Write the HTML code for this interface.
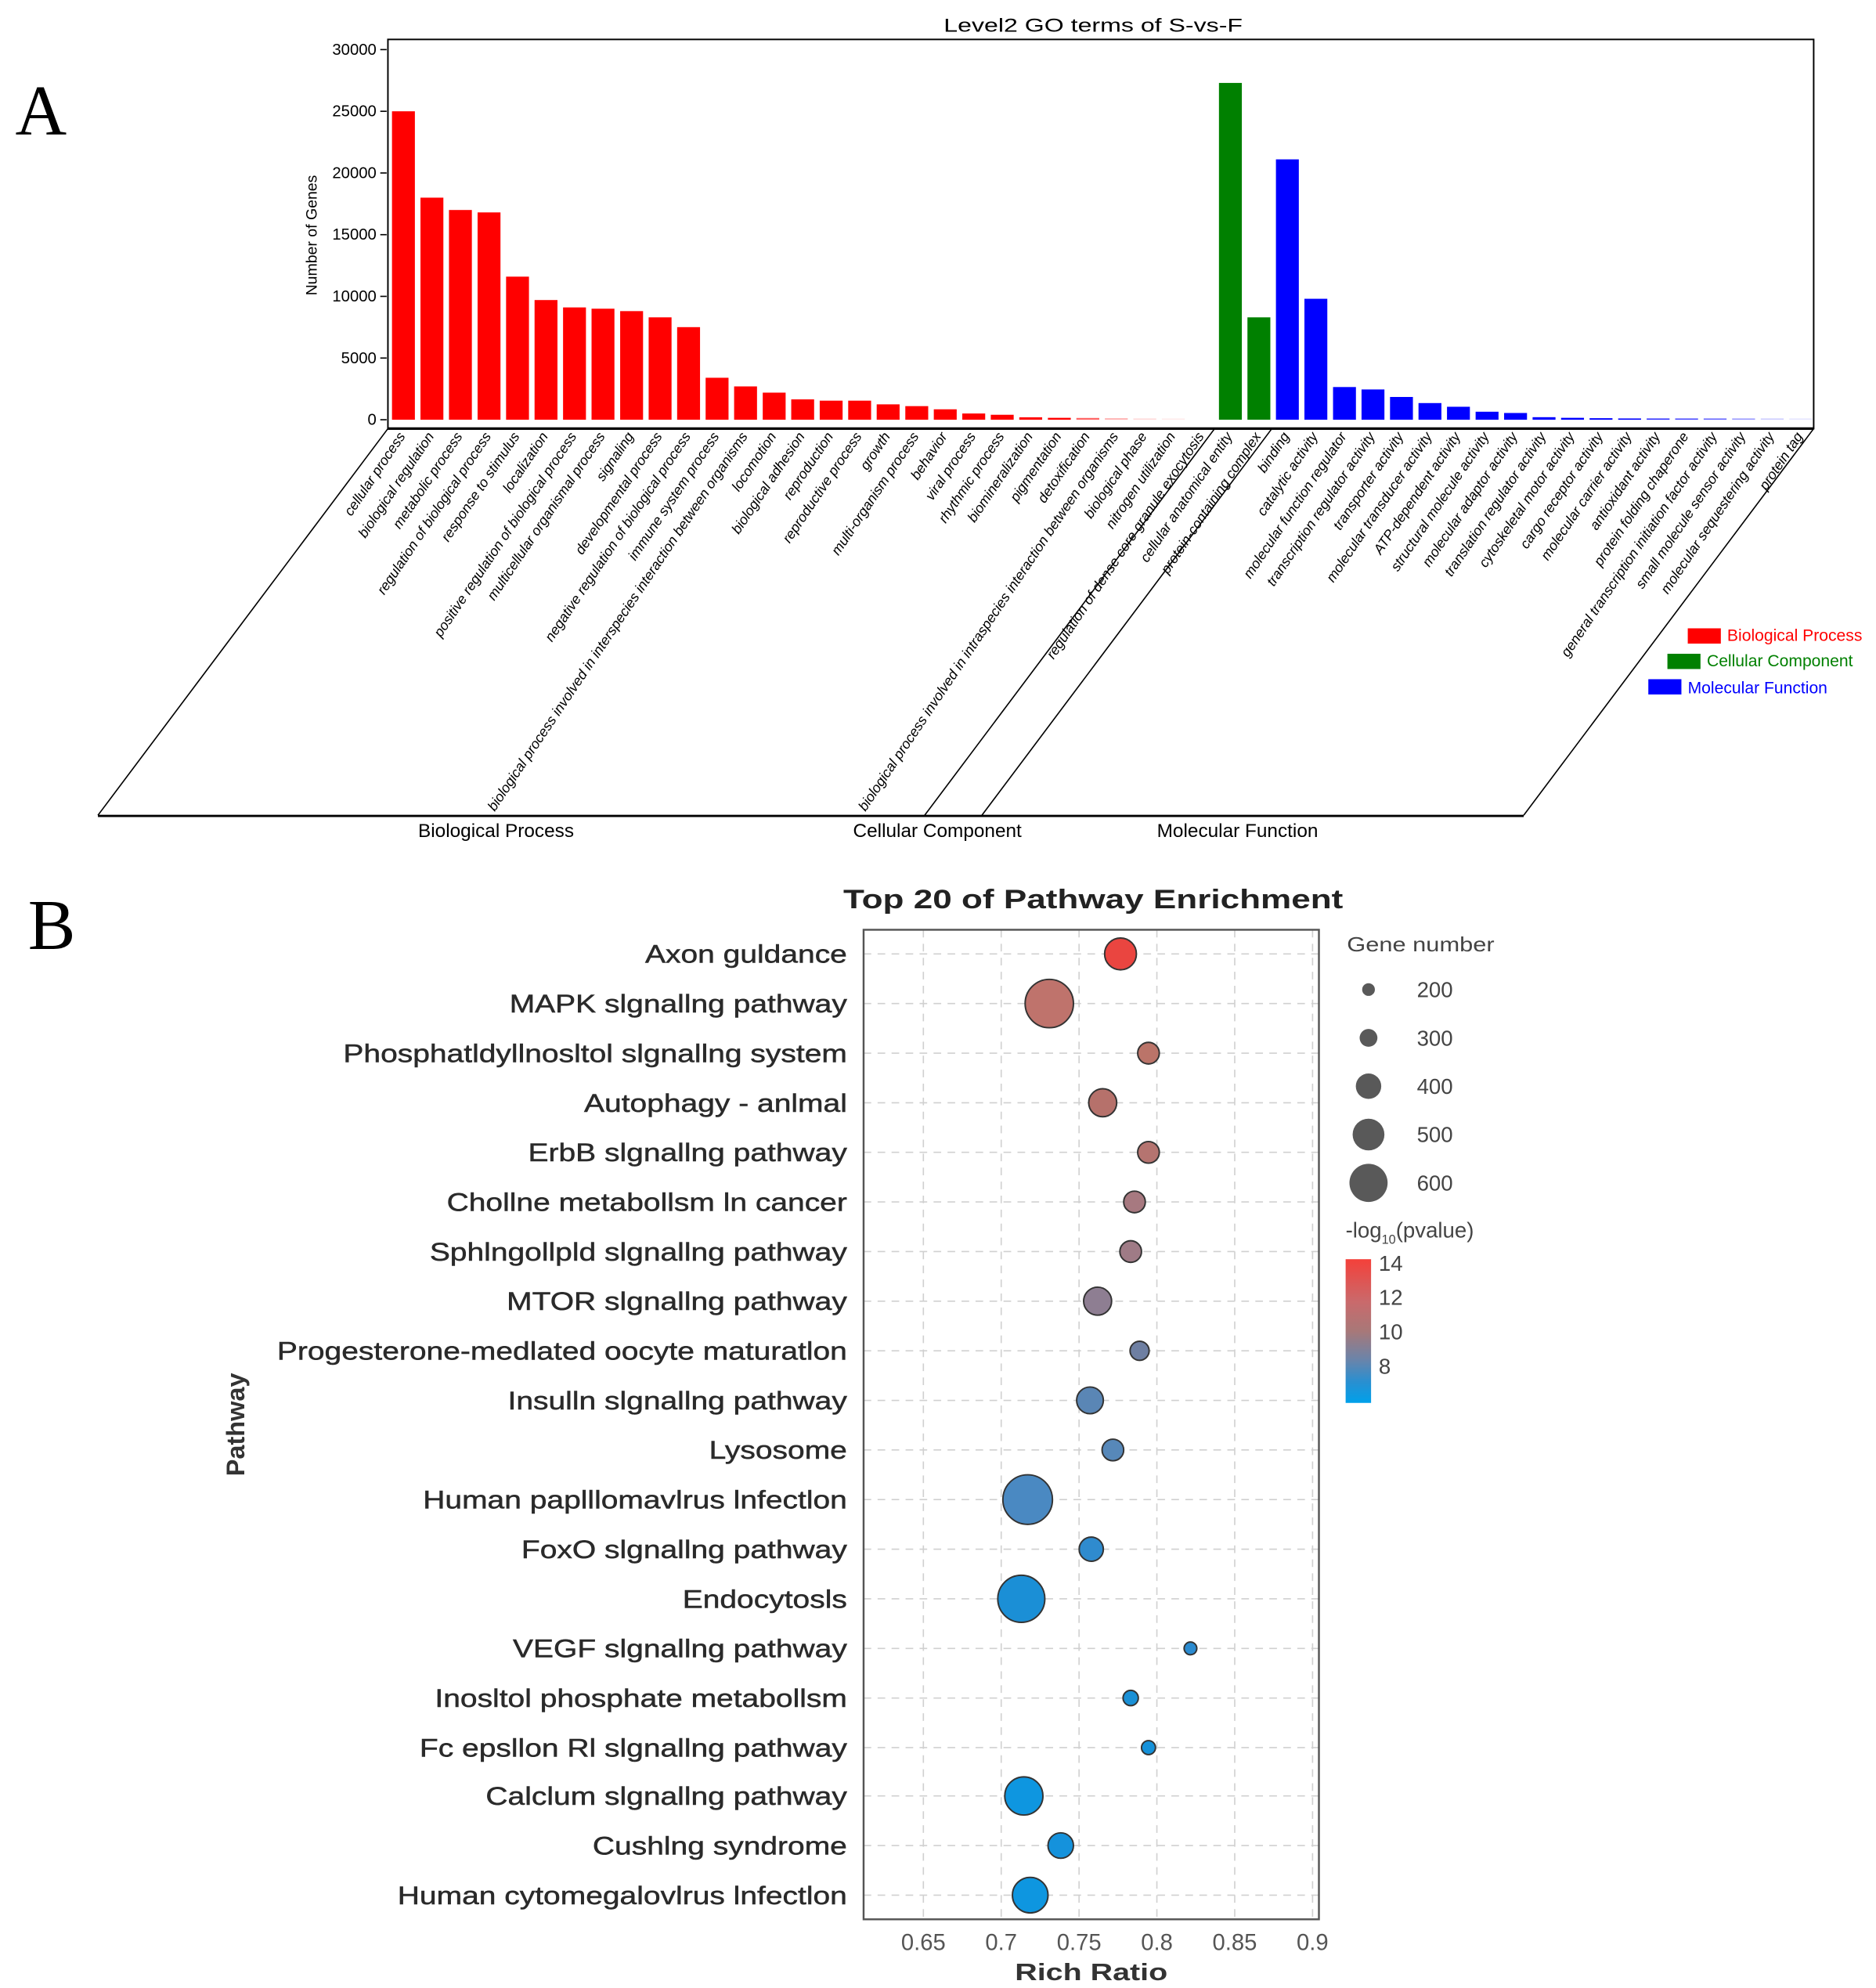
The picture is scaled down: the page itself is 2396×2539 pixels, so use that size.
<!DOCTYPE html>
<html><head><meta charset="utf-8"><style>
html,body{margin:0;padding:0;background:#fff;}
svg{display:block;}
text{font-family:"Liberation Sans",sans-serif;}
</style></head><body>
<svg width="2396" height="2539" viewBox="0 0 1475 1563" preserveAspectRatio="none" xmlns="http://www.w3.org/2000/svg">
<rect width="1475" height="1563" fill="#fff"/>
<!-- Panel A -->
<text x="12" y="106" font-size="56" style="font-family:'Liberation Serif',serif">A</text>
<text x="742" y="25" font-size="15" textLength="235" lengthAdjust="spacingAndGlyphs">Level2 GO terms of S-vs-F</text>
<rect x="305" y="31" width="1121" height="306" fill="none" stroke="#000" stroke-width="1.2"/>
<line x1="305" y1="337" x2="1426" y2="337" stroke="#000" stroke-width="2"/>
<g font-size="12.5" text-anchor="end">
<text x="296" y="43">30000</text><text x="296" y="91.5">25000</text><text x="296" y="140">20000</text>
<text x="296" y="188.5">15000</text><text x="296" y="237">10000</text><text x="296" y="285.5">5000</text><text x="296" y="334">0</text>
</g>
<g stroke="#000" stroke-width="1">
<line x1="299" y1="39" x2="304" y2="39"/><line x1="299" y1="87.5" x2="304" y2="87.5"/><line x1="299" y1="136" x2="304" y2="136"/>
<line x1="299" y1="184.5" x2="304" y2="184.5"/><line x1="299" y1="233" x2="304" y2="233"/><line x1="299" y1="281.5" x2="304" y2="281.5"/><line x1="299" y1="330" x2="304" y2="330"/>
</g>
<text transform="translate(249,185) rotate(-90)" font-size="12" text-anchor="middle">Number of Genes</text>
<g fill="#ff0000">
<rect x="308.2" y="87.5" width="18" height="242.5"/><rect x="330.6" y="155.4" width="18" height="174.6"/>
<rect x="353" y="165.1" width="18" height="164.9"/><rect x="375.5" y="167" width="18" height="163"/>
<rect x="397.9" y="217.5" width="18" height="112.5"/><rect x="420.3" y="235.9" width="18" height="94.1"/>
<rect x="442.7" y="241.7" width="18" height="88.3"/><rect x="465.1" y="242.7" width="18" height="87.3"/>
<rect x="487.6" y="244.6" width="18" height="85.4"/><rect x="510" y="249.5" width="18" height="80.5"/>
<rect x="532.4" y="257.2" width="18" height="72.8"/><rect x="554.8" y="297" width="18" height="33"/>
<rect x="577.2" y="303.8" width="18" height="26.2"/><rect x="599.7" y="308.7" width="18" height="21.3"/>
<rect x="622.1" y="314" width="18" height="16"/><rect x="644.5" y="315" width="18" height="15"/>
<rect x="666.9" y="315" width="18" height="15"/><rect x="689.3" y="317.9" width="18" height="12.1"/>
<rect x="711.8" y="319.3" width="18" height="10.7"/><rect x="734.2" y="321.8" width="18" height="8.2"/>
<rect x="756.6" y="325.1" width="18" height="4.9"/><rect x="779" y="326.1" width="18" height="3.9"/>
<rect x="801.4" y="328.1" width="18" height="1.9"/><rect x="823.9" y="328.5" width="18" height="1.5"/>
<rect x="846.3" y="328.6" width="18" height="1.4" opacity="0.6"/><rect x="868.7" y="328.8" width="18" height="1.2" opacity="0.3"/>
<rect x="891.1" y="329" width="18" height="1" opacity="0.15"/><rect x="913.5" y="329" width="18" height="1" opacity="0.08"/>
</g>
<g fill="#008000">
<rect x="958.4" y="65.2" width="18" height="264.8"/><rect x="980.8" y="249.5" width="18" height="80.5"/>
</g>
<g fill="#0000ff">
<rect x="1003.2" y="125.3" width="18" height="204.7"/><rect x="1025.6" y="234.9" width="18" height="95.1"/>
<rect x="1048.1" y="304.3" width="18" height="25.7"/><rect x="1070.5" y="306.2" width="18" height="23.8"/>
<rect x="1092.9" y="312.1" width="18" height="17.9"/><rect x="1115.3" y="316.9" width="18" height="13.1"/>
<rect x="1137.7" y="319.8" width="18" height="10.2"/><rect x="1160.2" y="323.7" width="18" height="6.3"/>
<rect x="1182.6" y="324.7" width="18" height="5.3"/><rect x="1205" y="328" width="18" height="2"/>
<rect x="1227.4" y="328.5" width="18" height="1.5"/><rect x="1249.8" y="328.8" width="18" height="1.2"/>
<rect x="1272.3" y="329" width="18" height="1"/><rect x="1294.7" y="329" width="18" height="1" opacity="0.8"/>
<rect x="1317.1" y="329" width="18" height="1" opacity="0.7"/><rect x="1339.5" y="329" width="18" height="1" opacity="0.6"/>
<rect x="1361.9" y="329" width="18" height="1" opacity="0.4"/><rect x="1384.4" y="329" width="18" height="1" opacity="0.2"/>
<rect x="1406.8" y="329" width="18" height="1" opacity="0.1"/>
</g>
<g font-size="11" text-anchor="end" font-style="italic">
<text transform="translate(319,343) rotate(-56)">cellular process</text>
<text transform="translate(341.6,343) rotate(-56)">biological regulation</text>
<text transform="translate(364,343) rotate(-56)">metabolic process</text>
<text transform="translate(386.5,343) rotate(-56)">regulation of biological process</text>
<text transform="translate(408.9,343) rotate(-56)">response to stimulus</text>
<text transform="translate(431.3,343) rotate(-56)">localization</text>
<text transform="translate(453.7,343) rotate(-56)">positive regulation of biological process</text>
<text transform="translate(476.1,343) rotate(-56)">multicellular organismal process</text>
<text transform="translate(498.6,343) rotate(-56)">signaling</text>
<text transform="translate(521,343) rotate(-56)">developmental process</text>
<text transform="translate(543.4,343) rotate(-56)">negative regulation of biological process</text>
<text transform="translate(565.8,343) rotate(-56)">immune system process</text>
<text transform="translate(588.2,343) rotate(-56)">biological process involved in interspecies interaction between organisms</text>
<text transform="translate(610.7,343) rotate(-56)">locomotion</text>
<text transform="translate(633.1,343) rotate(-56)">biological adhesion</text>
<text transform="translate(655.5,343) rotate(-56)">reproduction</text>
<text transform="translate(677.9,343) rotate(-56)">reproductive process</text>
<text transform="translate(700.3,343) rotate(-56)">growth</text>
<text transform="translate(722.8,343) rotate(-56)">multi-organism process</text>
<text transform="translate(745.2,343) rotate(-56)">behavior</text>
<text transform="translate(767.6,343) rotate(-56)">viral process</text>
<text transform="translate(790,343) rotate(-56)">rhythmic process</text>
<text transform="translate(812.4,343) rotate(-56)">biomineralization</text>
<text transform="translate(834.9,343) rotate(-56)">pigmentation</text>
<text transform="translate(857.3,343) rotate(-56)">detoxification</text>
<text transform="translate(879.7,343) rotate(-56)">biological process involved in intraspecies interaction between organisms</text>
<text transform="translate(902.1,343) rotate(-56)">biological phase</text>
<text transform="translate(924.5,343) rotate(-56)">nitrogen utilization</text>
<text transform="translate(947,343) rotate(-56)">regulation of dense core granule exocytosis</text>
<text transform="translate(969.4,343) rotate(-56)">cellular anatomical entity</text>
<text transform="translate(991.8,343) rotate(-56)">protein-containing complex</text>
<text transform="translate(1014.2,343) rotate(-56)">binding</text>
<text transform="translate(1036.6,343) rotate(-56)">catalytic activity</text>
<text transform="translate(1059.1,343) rotate(-56)">molecular function regulator</text>
<text transform="translate(1081.5,343) rotate(-56)">transcription regulator activity</text>
<text transform="translate(1103.9,343) rotate(-56)">transporter activity</text>
<text transform="translate(1126.3,343) rotate(-56)">molecular transducer activity</text>
<text transform="translate(1148.7,343) rotate(-56)">ATP-dependent activity</text>
<text transform="translate(1171.2,343) rotate(-56)">structural molecule activity</text>
<text transform="translate(1193.6,343) rotate(-56)">molecular adaptor activity</text>
<text transform="translate(1216,343) rotate(-56)">translation regulator activity</text>
<text transform="translate(1238.4,343) rotate(-56)">cytoskeletal motor activity</text>
<text transform="translate(1260.8,343) rotate(-56)">cargo receptor activity</text>
<text transform="translate(1283.3,343) rotate(-56)">molecular carrier activity</text>
<text transform="translate(1305.7,343) rotate(-56)">antioxidant activity</text>
<text transform="translate(1328.1,343) rotate(-56)">protein folding chaperone</text>
<text transform="translate(1350.5,343) rotate(-56)">general transcription initiation factor activity</text>
<text transform="translate(1372.9,343) rotate(-56)">small molecule sensor activity</text>
<text transform="translate(1395.4,343) rotate(-56)">molecular sequestering activity</text>
<text transform="translate(1417.8,343) rotate(-56)">protein tag</text>
</g>
<g stroke="#000" stroke-width="1" fill="none">
<line x1="305" y1="337" x2="77" y2="641"/>
<line x1="955" y1="337" x2="727" y2="641"/>
<line x1="1000" y1="337" x2="772" y2="641"/>
<line x1="1426" y1="337" x2="1198" y2="641"/>
<line x1="77" y1="641.5" x2="1198" y2="641.5" stroke-width="1.8"/>
</g>
<g font-size="15" text-anchor="middle">
<text x="390" y="658">Biological Process</text>
<text x="737" y="658">Cellular Component</text>
<text x="973" y="658">Molecular Function</text>
</g>
<rect x="1327" y="494" width="26" height="12" fill="#ff0000"/>
<text x="1358" y="504" font-size="13" fill="#ff0000">Biological Process</text>
<rect x="1311" y="514" width="26" height="12" fill="#008000"/>
<text x="1342" y="524" font-size="13" fill="#008000">Cellular Component</text>
<rect x="1296" y="534" width="26" height="12" fill="#0000ff"/>
<text x="1327" y="545" font-size="13" fill="#0000ff">Molecular Function</text>

<!-- Panel B -->
<text x="22" y="746" font-size="56" style="font-family:'Liberation Serif',serif">B</text>
<text x="663" y="714" font-size="21" font-weight="bold" fill="#222" textLength="393" lengthAdjust="spacingAndGlyphs">Top 20 of Pathway Enrichment</text>
<g stroke="#d0d0d0" stroke-width="1" stroke-dasharray="6,5">
<line x1="726" y1="731" x2="726" y2="1509"/><line x1="787.2" y1="731" x2="787.2" y2="1509"/>
<line x1="848.4" y1="731" x2="848.4" y2="1509"/><line x1="909.6" y1="731" x2="909.6" y2="1509"/>
<line x1="970.8" y1="731" x2="970.8" y2="1509"/><line x1="1032" y1="731" x2="1032" y2="1509"/>
<line x1="679" y1="750" x2="1037" y2="750"/><line x1="679" y1="789" x2="1037" y2="789"/>
<line x1="679" y1="828" x2="1037" y2="828"/><line x1="679" y1="867" x2="1037" y2="867"/>
<line x1="679" y1="906" x2="1037" y2="906"/><line x1="679" y1="945" x2="1037" y2="945"/>
<line x1="679" y1="984" x2="1037" y2="984"/><line x1="679" y1="1023" x2="1037" y2="1023"/>
<line x1="679" y1="1062" x2="1037" y2="1062"/><line x1="679" y1="1101" x2="1037" y2="1101"/>
<line x1="679" y1="1140" x2="1037" y2="1140"/><line x1="679" y1="1179" x2="1037" y2="1179"/>
<line x1="679" y1="1218" x2="1037" y2="1218"/><line x1="679" y1="1257" x2="1037" y2="1257"/>
<line x1="679" y1="1296" x2="1037" y2="1296"/><line x1="679" y1="1335" x2="1037" y2="1335"/>
<line x1="679" y1="1374" x2="1037" y2="1374"/><line x1="679" y1="1412" x2="1037" y2="1412"/>
<line x1="679" y1="1451" x2="1037" y2="1451"/><line x1="679" y1="1490" x2="1037" y2="1490"/>
</g>
<rect x="679" y="731" width="358" height="778" fill="none" stroke="#555" stroke-width="1.5"/>
<g stroke="#333" stroke-width="1.2">
<circle cx="881" cy="750" r="12.5" fill="#ea4540"/>
<circle cx="825" cy="789" r="19" fill="#bf736c"/>
<circle cx="903" cy="828" r="8.5" fill="#bb7469"/>
<circle cx="867" cy="867" r="11" fill="#b6716b"/>
<circle cx="903" cy="906" r="8.5" fill="#b57470"/>
<circle cx="892" cy="945" r="8.5" fill="#a77980"/>
<circle cx="889" cy="984" r="8.5" fill="#9f7b86"/>
<circle cx="863" cy="1023" r="11" fill="#8e7e92"/>
<circle cx="896" cy="1062" r="7.5" fill="#6e7fa2"/>
<circle cx="857" cy="1101" r="10.5" fill="#5a86b5"/>
<circle cx="875" cy="1140" r="8.5" fill="#5788b9"/>
<circle cx="808" cy="1179" r="19.5" fill="#4a89c2"/>
<circle cx="858" cy="1218" r="9.5" fill="#2f8bce"/>
<circle cx="803" cy="1257" r="18.5" fill="#1b8fd6"/>
<circle cx="936" cy="1296" r="5" fill="#2b8bd0"/>
<circle cx="889" cy="1335" r="6" fill="#1a90d6"/>
<circle cx="903" cy="1374" r="5.5" fill="#1591d9"/>
<circle cx="805" cy="1412" r="15" fill="#0e96e0"/>
<circle cx="834" cy="1451" r="10" fill="#1592dc"/>
<circle cx="810" cy="1490" r="14" fill="#0e96e0"/>
</g>
<g transform="translate(666,0) scale(1.2,1)" font-size="20" text-anchor="end" fill="#2a2a2a" stroke="#2a2a2a" stroke-width="0.3">
<text x="0" y="757">Axon guldance</text>
<text x="0" y="796">MAPK slgnallng pathway</text>
<text x="0" y="835">Phosphatldyllnosltol slgnallng system</text>
<text x="0" y="874">Autophagy - anlmal</text>
<text x="0" y="913">ErbB slgnallng pathway</text>
<text x="0" y="952">Chollne metabollsm ln cancer</text>
<text x="0" y="991">Sphlngollpld slgnallng pathway</text>
<text x="0" y="1030">MTOR slgnallng pathway</text>
<text x="0" y="1069">Progesterone-medlated oocyte maturatlon</text>
<text x="0" y="1108">Insulln slgnallng pathway</text>
<text x="0" y="1147">Lysosome</text>
<text x="0" y="1186">Human paplllomavlrus lnfectlon</text>
<text x="0" y="1225">FoxO slgnallng pathway</text>
<text x="0" y="1264">Endocytosls</text>
<text x="0" y="1303">VEGF slgnallng pathway</text>
<text x="0" y="1342">Inosltol phosphate metabollsm</text>
<text x="0" y="1381">Fc epsllon Rl slgnallng pathway</text>
<text x="0" y="1419">Calclum slgnallng pathway</text>
<text x="0" y="1458">Cushlng syndrome</text>
<text x="0" y="1497">Human cytomegalovlrus lnfectlon</text>
</g>
<g font-size="18" text-anchor="middle" fill="#555">
<text x="726" y="1533">0.65</text><text x="787.2" y="1533">0.7</text><text x="848.4" y="1533">0.75</text>
<text x="909.6" y="1533">0.8</text><text x="970.8" y="1533">0.85</text><text x="1032" y="1533">0.9</text>
</g>
<text x="798" y="1557" font-size="19" font-weight="bold" fill="#333" textLength="120" lengthAdjust="spacingAndGlyphs">Rich Ratio</text>
<text transform="translate(192,1120) rotate(-90)" font-size="20" font-weight="bold" text-anchor="middle" fill="#333">Pathway</text>
<text x="1059" y="748" font-size="16" fill="#444" textLength="116" lengthAdjust="spacingAndGlyphs">Gene number</text>
<g fill="#595959">
<circle cx="1076" cy="778" r="5"/><circle cx="1076" cy="816" r="7"/><circle cx="1076" cy="854" r="10"/>
<circle cx="1076" cy="892" r="12.5"/><circle cx="1076" cy="930" r="15"/>
</g>
<g font-size="17" fill="#444">
<text x="1114" y="784">200</text><text x="1114" y="822">300</text><text x="1114" y="860">400</text>
<text x="1114" y="898">500</text><text x="1114" y="936">600</text>
</g>
<text x="1058" y="973" font-size="17" fill="#444">-log<tspan font-size="10" dy="5">10</tspan><tspan dy="-5">(pvalue)</tspan></text>
<defs><linearGradient id="cb" x1="0" y1="0" x2="0" y2="1">
<stop offset="0" stop-color="#f4403a"/><stop offset="0.3" stop-color="#c96a6c"/>
<stop offset="0.5" stop-color="#a87878"/><stop offset="0.7" stop-color="#6a84aa"/>
<stop offset="0.85" stop-color="#2a8fd0"/><stop offset="1" stop-color="#00a0ea"/>
</linearGradient></defs>
<rect x="1058" y="990" width="20" height="113" fill="url(#cb)"/>
<g font-size="17" fill="#444">
<text x="1084" y="999">14</text><text x="1084" y="1026">12</text><text x="1084" y="1053">10</text><text x="1084" y="1080">8</text>
</g>
</svg>
</body></html>
